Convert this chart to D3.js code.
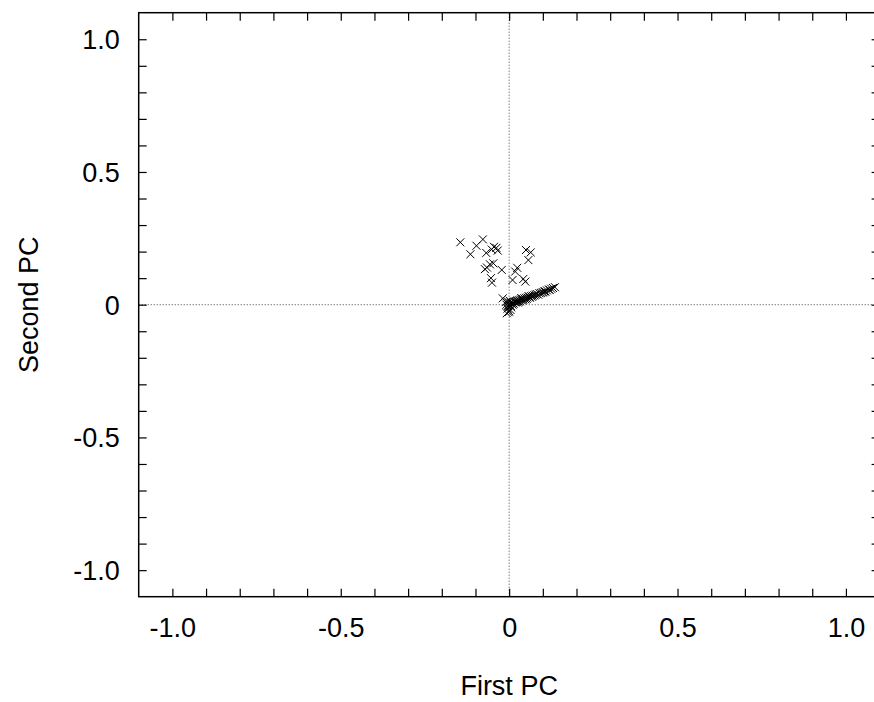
<!DOCTYPE html>
<html>
<head>
<meta charset="utf-8">
<script src="https://cdn.jsdelivr.net/npm/d3@7"></script>
<style>
  html, body { margin: 0; padding: 0; background: #fff; }
  text { font-family: "Liberation Sans", Arial, Helvetica, sans-serif; }
</style>
</head>
<body>
<svg id="chart" width="874" height="702"></svg>
<script>
// Principal component scores: first PC (x) and second PC (y)
const pc1 = [
  -0.145, -0.115, -0.097, -0.078, -0.068, -0.052, -0.045, -0.038, -0.034,
  -0.072, -0.066, -0.057, -0.047, -0.022, -0.054, -0.051,
   0.050,  0.064,  0.057,  0.024,  0.018,  0.010,  0.042,  0.048,
  -0.019, -0.007, -0.005,  0.000,  0.003, -0.003,  0.006,  0.008, -0.010,  0.004,
   0.012,  0.015,  0.020,  0.025,  0.028,  0.030,  0.035,  0.038,  0.040,  0.045,
   0.048,  0.050,  0.055,  0.060,  0.065,  0.070,  0.075,  0.082,  0.090,  0.098,
   0.105,  0.112,  0.118,  0.125,  0.130,  0.136,
   0.002,  0.005,  0.010,  0.013,  0.018,  0.022,  0.026,  0.032,  0.036,  0.042,
   0.052,  0.058,  0.062,  0.068,  0.078,  0.086,  0.094,  0.102,  0.108,  0.120,
  -0.008, -0.004,  0.000, -0.002
];
const pc2 = [
   0.235,  0.190,  0.222,  0.246,  0.195,  0.208,  0.218,  0.214,  0.204,
   0.134,  0.140,  0.152,  0.156,  0.131,  0.100,  0.083,
   0.206,  0.197,  0.168,  0.139,  0.125,  0.093,  0.097,  0.087,
   0.024, -0.032, -0.015,  0.000,  0.008, -0.005, -0.010,  0.004,  0.010, -0.020,
   0.006,  0.012,  0.010,  0.016,  0.012,  0.018,  0.020,  0.016,  0.022,  0.024,
   0.020,  0.026,  0.027,  0.030,  0.032,  0.034,  0.035,  0.040,  0.043,  0.046,
   0.050,  0.054,  0.057,  0.060,  0.063,  0.066,
   0.015, -0.005,  0.000,  0.004,  0.008,  0.014,  0.008,  0.013,  0.025,  0.018,
   0.022,  0.032,  0.026,  0.030,  0.038,  0.038,  0.044,  0.047,  0.050,  0.056,
   0.000,  0.012, -0.025, -0.028
];

const minorTicks = d3.range(-10, 11).map(i => i / 10);
const xTickLabels = [-1.0, -0.5, 0, 0.5, 1.0];
const yTickLabels = [-1.0, -0.5, 0, 0.5, 1.0];
const xTitle = "First PC";
const yTitle = "Second PC";

const svg = d3.select("#chart");
const plotL = 138.7, plotR = 879.6, plotT = 12.7, plotB = 596.7;

const x = d3.scaleLinear().domain([-1.1, 1.1]).range([plotL, plotR]);
const y = d3.scaleLinear().domain([-1.1, 1.1]).range([plotB, plotT]);
const fmt = v => v === 0 ? "0" : v.toFixed(1);

// zero reference lines
const zeroG = svg.append("g")
  .attr("stroke", "#444").attr("stroke-width", 1)
  .attr("stroke-dasharray", "1,2");
zeroG.append("line").attr("x1", x(-1.1)).attr("x2", x(1.1))
  .attr("y1", y(0)).attr("y2", y(0));
zeroG.append("line").attr("x1", x(0)).attr("x2", x(0))
  .attr("y1", y(-1.1)).attr("y2", y(1.1));

// inward ticks on all four sides
function tickAxis(axis, tx, ty) {
  const g = svg.append("g").attr("transform", `translate(${tx},${ty})`)
    .call(axis.tickValues(minorTicks).tickSize(-8).tickFormat(""));
  g.select(".domain").remove();
  g.selectAll(".tick line").attr("stroke", "#000").attr("stroke-width", 1.2);
  return g;
}
tickAxis(d3.axisBottom(x), 0, plotB);
tickAxis(d3.axisTop(x), 0, plotT);
tickAxis(d3.axisLeft(y), plotL, 0);
tickAxis(d3.axisRight(y), plotR, 0);

// frame
svg.append("rect")
  .attr("x", plotL).attr("y", plotT)
  .attr("width", plotR - plotL).attr("height", plotB - plotT)
  .attr("fill", "none").attr("stroke", "#000").attr("stroke-width", 1.5);

// tick labels
const fs = 27;
const xl = svg.append("g").attr("transform", `translate(0,${plotB})`)
  .call(d3.axisBottom(x).tickValues(xTickLabels).tickSize(0).tickPadding(0).tickFormat(fmt));
xl.select(".domain").remove();
xl.selectAll("text").attr("font-size", fs).attr("fill", "#000")
  .attr("font-family", "Liberation Sans, Arial, sans-serif")
  .attr("dy", null).attr("y", 40);

const yl = svg.append("g").attr("transform", `translate(${plotL},0)`)
  .call(d3.axisLeft(y).tickValues(yTickLabels).tickSize(0).tickPadding(0).tickFormat(fmt));
yl.select(".domain").remove();
yl.selectAll("text").attr("font-size", fs).attr("fill", "#000")
  .attr("font-family", "Liberation Sans, Arial, sans-serif")
  .attr("x", -19).attr("dy", "0.35em");

// axis titles
svg.append("text").attr("x", x(0)).attr("y", 695)
  .attr("text-anchor", "middle").attr("font-size", fs).text(xTitle);
svg.append("text")
  .attr("transform", `translate(38,${y(0)}) rotate(-90)`)
  .attr("text-anchor", "middle").attr("font-size", fs).text(yTitle);

// cross markers
const r = 4;
const pts = pc1.map((v, i) => [v, pc2[i]]);
svg.append("g").attr("stroke", "#000").attr("stroke-width", 1)
  .selectAll("path").data(pts).join("path")
  .attr("d", d => {
    const cx = x(d[0]), cy = y(d[1]);
    return `M${cx - r},${cy - r}L${cx + r},${cy + r}M${cx - r},${cy + r}L${cx + r},${cy - r}`;
  });
</script>
</body>
</html>
